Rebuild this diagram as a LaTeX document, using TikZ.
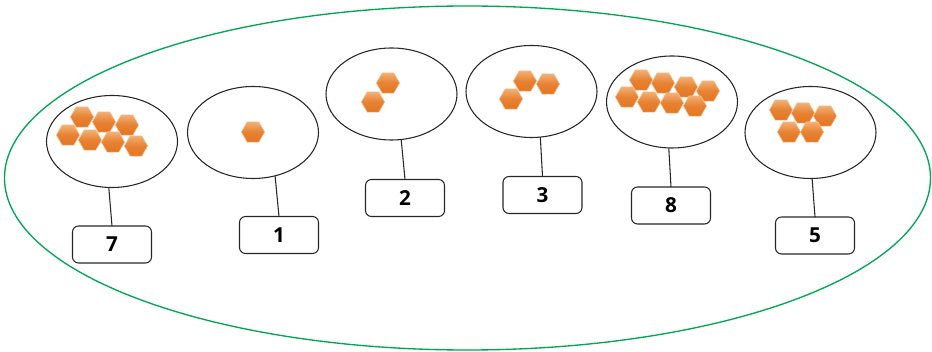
\documentclass[tikz,border=0pt]{standalone}
\usepackage{fontspec}
\newfontfamily\numfont{Open Sans}
\usetikzlibrary{shapes.geometric}
\definecolor{rimgreen}{RGB}{0,166,81}
\definecolor{hexlight}{RGB}{242,176,116}
\definecolor{hexdark}{RGB}{228,118,34}
\definecolor{hexedge}{RGB}{246,196,150}
\begin{document}
\begin{tikzpicture}[x=0.75pt,y=-0.75pt,
  cup/.style={draw=black!85, line width=0.8pt, ellipse, minimum width=98.25pt, minimum height=69pt, inner sep=0pt, outer sep=0pt},
  numbox/.style={draw=black!85, line width=0.8pt, rounded corners=4.5pt, minimum width=59.25pt, minimum height=27.75pt, inner sep=0pt, outer sep=0pt, font=\numfont\bfseries\fontsize{15.5}{17}\selectfont},
  hexa/.style={regular polygon, regular polygon sides=6, minimum size=17.5pt, inner sep=0pt, draw=hexedge, line width=0.4pt, top color=hexlight, bottom color=hexdark, middle color=hexdark!80!hexlight},
  stick/.style={draw=black!85, line width=0.8pt}]
\useasboundingbox (0,0) rectangle (932,352);

% outer ring
\draw[rimgreen, line width=1pt] (467.5,178) ellipse [x radius=463, y radius=172];

% groups
\node[cup] (e7) at (112,141.5) {};
\node[cup] (e1) at (253,132.5) {};
\node[cup] (e2) at (391.5,94) {};
\node[cup] (e3) at (531.5,91.5) {};
\node[cup] (e8) at (672,102) {};
\node[cup] (e5) at (810.5,132.5) {};

% counters
\foreach \p [count=\i] in {(82,117),(104,122),(127,125),(68,135),(90,140),(113,142),(136,146)}
  \node[hexa] (h7-\i) at \p {};
\node[hexa] (h1-1) at (253,132) {};
\foreach \p [count=\i] in {(388,83),(373,102)}
  \node[hexa] (h2-\i) at \p {};
\foreach \p [count=\i] in {(525,81),(548,84),(511,99)}
  \node[hexa] (h3-\i) at \p {};
\foreach \p [count=\i] in {(641,80),(663,83),(686,87),(708,91),(627,97),(649,102),(672,103),(695,106)}
  \node[hexa] (h8-\i) at \p {};
\foreach \p [count=\i] in {(781,110),(803,113),(825,116),(789,132),(812,132)}
  \node[hexa] (h5-\i) at \p {};

% answers
\node[numbox] (b7) at (112,244.5) {7};
\node[numbox] (b1) at (279,235) {1};
\node[numbox] (b2) at (405,198) {2};
\node[numbox] (b3) at (542.5,195) {3};
\node[numbox] (b8) at (671,205.5) {8};
\node[numbox] (b5) at (815,235.5) {5};

\draw[stick] (e7.266) -- (b7.north);
\draw[stick] (e1.297) -- (b1.north);
\draw[stick] (e2.282) -- (b2.north);
\draw[stick] (e3.281) -- (b3.north);
\draw[stick] (e8.266) -- (b8.north);
\draw[stick] (e5.272) -- (b5.north);

\end{tikzpicture}
\end{document}
